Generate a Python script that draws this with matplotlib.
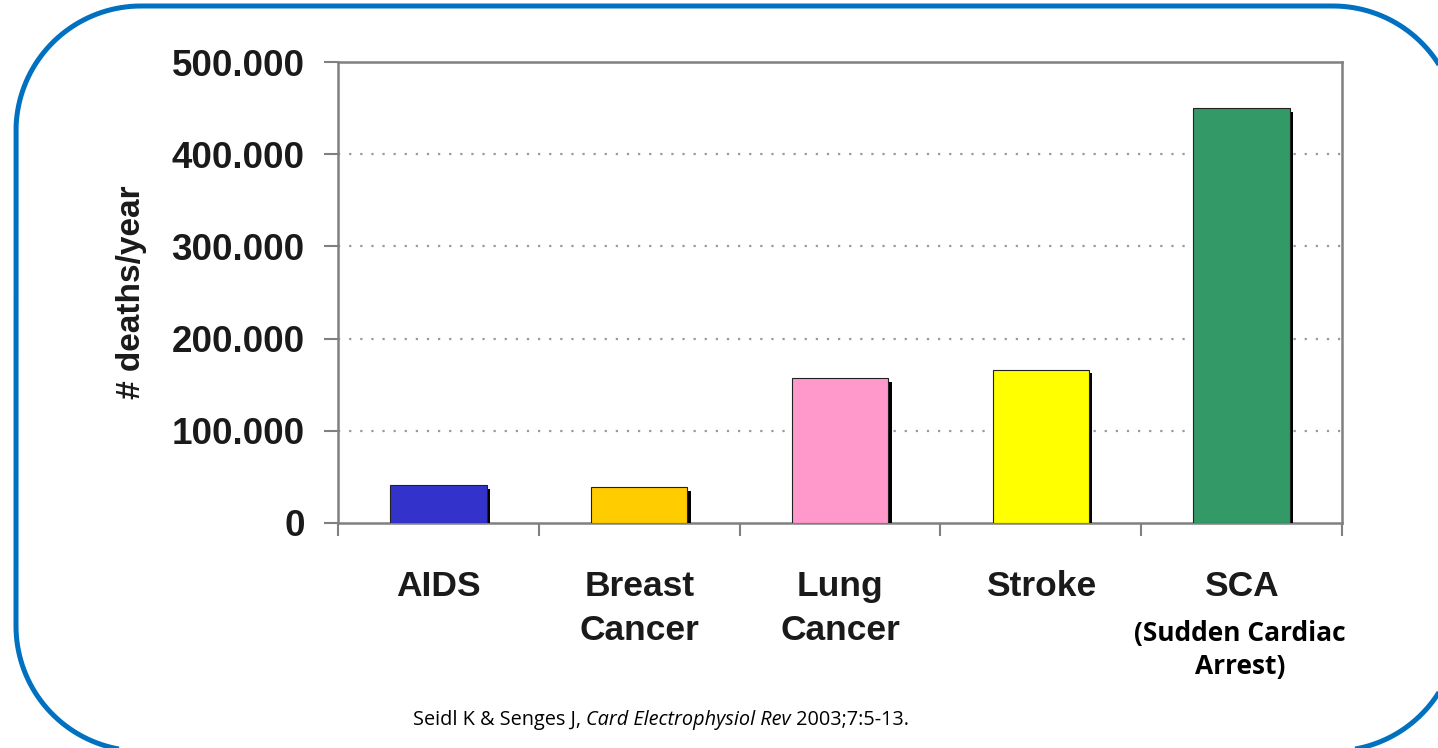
import matplotlib
matplotlib.use("Agg")
import matplotlib.pyplot as plt
import matplotlib.patheffects as pe
from matplotlib.path import Path
from matplotlib.patches import PathPatch
from matplotlib.ticker import FuncFormatter, FixedLocator
import numpy as np

causes = ["AIDS", "Breast\nCancer", "Lung\nCancer", "Stroke", "SCA"]
deaths = [41000, 39000, 157000, 166000, 450000]
bar_colors = ["#3333CC", "#FFCC00", "#FF99CC", "#FFFF00", "#339966"]
yticks = [0, 100000, 200000, 300000, 400000, 500000]

W, H = 1438, 748
fig = plt.figure(figsize=(W / 100, H / 100), dpi=100)


def rounded_rect(x0, y0, x1, y1, r, n=40):
    """Closed outline of a rectangle with circular corners (pixel units)."""
    pts = []
    corners = [(x1 - r, y0 + r, -90, 0), (x1 - r, y1 - r, 0, 90),
               (x0 + r, y1 - r, 90, 180), (x0 + r, y0 + r, 180, 270)]
    for cx, cy, a0, a1 in corners:
        a = np.radians(np.linspace(a0, a1, n))
        pts += list(zip(cx + r * np.cos(a), cy + r * np.sin(a)))
    pts.append(pts[0])
    return Path(pts)


# rounded blue frame, drawn in pixel coordinates on a background axes
bg = fig.add_axes([0, 0, 1, 1])
bg.set_xlim(0, W)
bg.set_ylim(H, 0)
bg.axis("off")
bg.add_patch(PathPatch(rounded_rect(16, 6, 1458, 751, 125), fill=False,
                       edgecolor="#0070C0", linewidth=3.6, clip_on=False))

ax = fig.add_axes([338 / W, 1 - 523 / H, (1342 - 338) / W, (523 - 62) / H])
x = range(len(causes))
bars = ax.bar(x, deaths, width=0.48, color=bar_colors,
              edgecolor="#222222", linewidth=0.8, zorder=3)
for b in bars:
    b.set_path_effects([pe.SimplePatchShadow(offset=(2.5, -2.5),
                                             shadow_rgbFace="black", alpha=1),
                        pe.Normal()])

ax.set_xlim(-0.5, len(causes) - 0.5)
ax.set_ylim(0, 500000)

grey = "#808080"
for s in ax.spines.values():
    s.set_color(grey)
    s.set_linewidth(1.8)

ax.yaxis.set_major_locator(FixedLocator(yticks))
ax.yaxis.set_major_formatter(FuncFormatter(lambda v, p: f"{v:,.0f}".replace(",", ".")))
for v in yticks[1:-1]:
    ax.axhline(v, color="#999999", linestyle=(0, (1, 4)), linewidth=1.6, zorder=1)

# category separators as x ticks, labels centred in each slot
ax.set_xticks([i - 0.5 for i in range(len(causes) + 1)])
ax.set_xticklabels([])
ax.set_xticks(list(x), minor=True)
ax.set_xticklabels(causes, minor=True)
ax.tick_params(axis="x", which="minor", length=0, pad=34)
ax.tick_params(axis="x", which="major", length=9, width=1.5, color=grey, direction="out")
ax.tick_params(axis="y", length=10, width=1.5, color=grey, direction="out", pad=14)

font = "Liberation Sans"
for lab in ax.get_xticklabels(minor=True):
    lab.set_fontfamily(font)
    lab.set_fontweight("bold")
    lab.set_fontsize(25.5)
    lab.set_color("#1a1a1a")
    lab.set_linespacing(1.4)
for lab in ax.get_yticklabels():
    lab.set_fontfamily(font)
    lab.set_fontweight("bold")
    lab.set_fontsize(26.5)
    lab.set_color("#1a1a1a")

ax.set_ylabel("# deaths/year", fontfamily=font, fontweight="bold",
              fontsize=24, color="#1a1a1a", labelpad=18)

fig.text(1240 / W, 1 - 650 / H, "(Sudden Cardiac\nArrest)", ha="center", va="center",
         fontfamily="Open Sans", fontweight="bold", fontsize=19, linespacing=1.3)

# citation line with italic journal name
cy = 1 - 725 / H
t1 = fig.text(413 / W, cy, "Seidl K & Senges J, ", fontfamily="Open Sans",
              fontsize=14.3, va="baseline")
t2 = fig.text(0, 0, "Card Electrophysiol Rev", fontfamily="Open Sans", fontsize=14.3,
              style="italic", va="baseline")
t3 = fig.text(0, 0, " 2003;7:5-13.", fontfamily="Open Sans", fontsize=14.3, va="baseline")
fig.canvas.draw()
r = fig.canvas.get_renderer()
e1 = t1.get_window_extent(r)
t2.set_position((e1.x1 / W, cy))
e2 = t2.get_window_extent(r)
t3.set_position((e2.x1 / W, cy))

fig.savefig("out.png", dpi=100)
